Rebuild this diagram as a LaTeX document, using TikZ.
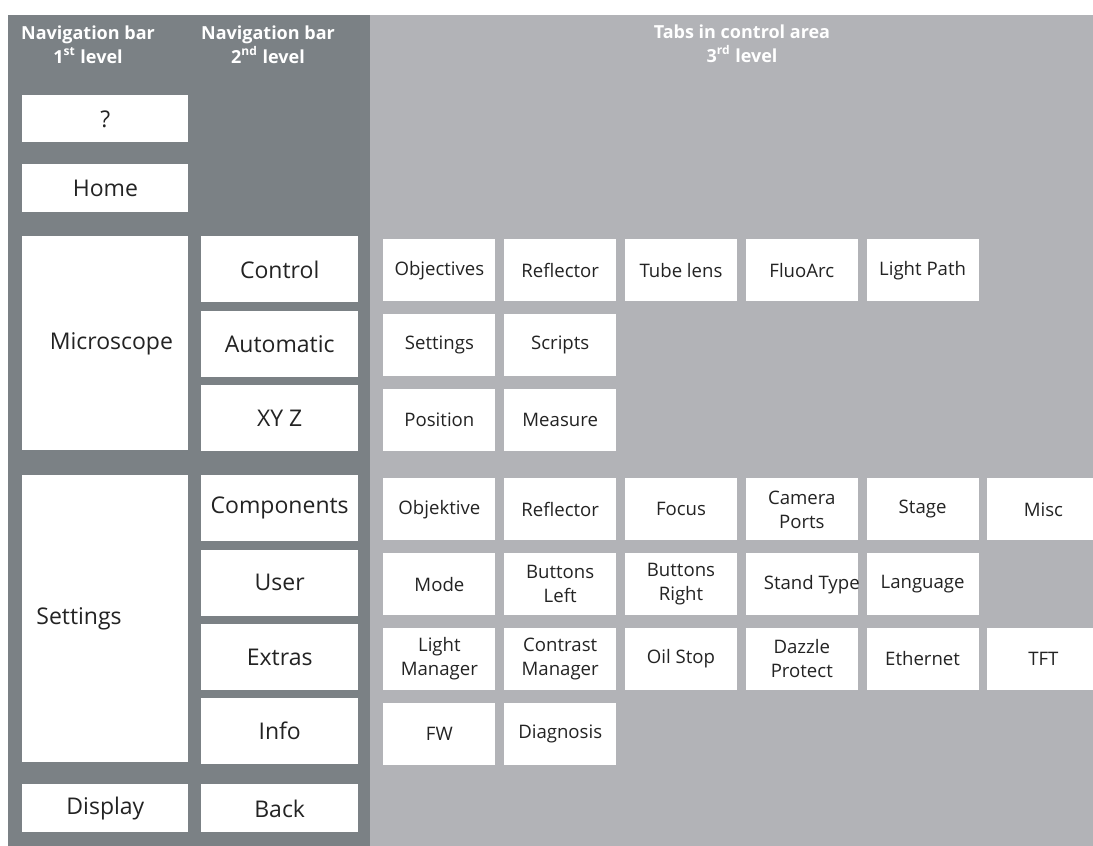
\documentclass[tikz,border=0pt]{standalone}
\usepackage{fontspec}
\setmainfont{Open Sans}
\usetikzlibrary{positioning}
\definecolor{navgrey}{RGB}{123,129,133}
\definecolor{tabgrey}{RGB}{178,179,183}
\definecolor{labelgrey}{RGB}{35,35,35}

\begin{document}
\begin{tikzpicture}[x=0.5pt, y=-0.5pt,
  headline/.style={text=white, align=center, anchor=base, inner sep=0pt,
    font=\bfseries\fontsize{9}{12}\selectfont},
  keybox/.style={fill=white, text=labelgrey, inner sep=0pt, align=center},
  navkey/.style={keybox, minimum width=83pt, font=\fontsize{11.5}{14}\selectfont},
  subkey/.style={keybox, minimum width=78.5pt, minimum height=33pt, font=\fontsize{11.5}{14}\selectfont},
  tabkey/.style={keybox, minimum width=56pt, minimum height=31pt, font=\fontsize{9.3}{12}\selectfont}]

% panels
\useasboundingbox (0,0) rectangle (1093,846);
\fill[white] (0,0) rectangle (1093,846);
\fill[navgrey] (8,15) rectangle (370,846);
\fill[tabgrey] (370,15) rectangle (1093,846);

% headings (base anchor sits on the second line)
\node[headline] (head1) at (88,63) {Navigation bar\\1\textsuperscript{st} level};
\node[headline] (head2) at (268,63) {Navigation bar\\2\textsuperscript{nd} level};
\node[headline] (head3) at (742,62) {Tabs in control area\\3\textsuperscript{rd} level};

% navigation bar, 1st level
\node[navkey, minimum height=23.5pt, anchor=north west] (help) at (22,95) {?};
\node[navkey, minimum height=24pt, below=10.5pt of help] (home) {Home};
\node[navkey, minimum height=107pt, anchor=north west] (micro) at (22,236) {\hspace*{6pt}Microscope};
\node[navkey, minimum height=143.5pt, anchor=north west, text width=69pt, inner xsep=7pt, align=left] (settings) at (22,475) {Settings};
\node[navkey, minimum height=24pt, anchor=north west] (display) at (22,784) {Display};

% navigation bar, 2nd level
\node[subkey, right=6pt of micro.north east, anchor=north west] (control) {Control};
\node[subkey, below=3.75pt of control] (automatic) {Automatic};
\node[subkey, below=3.75pt of automatic] (xyz) {XY Z};
\node[subkey, right=6pt of settings.north east, anchor=north west] (components) {Components};
\node[subkey, below=3.75pt of components] (user) {User};
\node[subkey, below=3.75pt of user] (extras) {Extras};
\node[subkey, below=3.75pt of extras] (info) {Info};
\node[subkey, minimum height=24pt, right=6pt of display] (back) {Back};

% tabs for Microscope
\node[tabkey, anchor=north west] (objectives) at (383,239) {Objectives};
\node[tabkey, right=4pt of objectives] (reflector) {Reflector};
\node[tabkey, right=4pt of reflector] (tubelens) {Tube lens};
\node[tabkey, right=4pt of tubelens] (fluoarc) {FluoArc};
\node[tabkey, right=4pt of fluoarc] (lightpath) {Light Path};
\node[tabkey, below=6pt of objectives] (autosettings) {Settings};
\node[tabkey, right=4pt of autosettings] (scripts) {Scripts};
\node[tabkey, below=6pt of autosettings] (position) {Position};
\node[tabkey, right=4pt of position] (measure) {Measure};

% tabs for Settings
\node[tabkey, anchor=north west] (objektive) at (383,478) {Objektive};
\node[tabkey, right=4pt of objektive] (compreflector) {Reflector};
\node[tabkey, right=4pt of compreflector] (focus) {Focus};
\node[tabkey, right=4pt of focus] (camports) {Camera\\Ports};
\node[tabkey, right=4pt of camports] (stage) {Stage};
\node[tabkey, right=4pt of stage] (misc) {Misc};
\node[tabkey, below=6pt of objektive] (mode) {Mode};
\node[tabkey, right=4pt of mode] (btnleft) {Buttons\\Left};
\node[tabkey, right=4pt of btnleft] (btnright) {Buttons\\Right};
\node[tabkey, right=4pt of btnright] (standtype) {\makebox[38pt][l]{Stand Type}};
\node[tabkey, right=4pt of standtype] (language) {Language};
\node[tabkey, below=6pt of mode] (lightmgr) {Light\\Manager};
\node[tabkey, right=4pt of lightmgr] (contrastmgr) {Contrast\\Manager};
\node[tabkey, right=4pt of contrastmgr] (oilstop) {Oil Stop};
\node[tabkey, right=4pt of oilstop] (dazzle) {Dazzle\\Protect};
\node[tabkey, right=4pt of dazzle] (ethernet) {Ethernet};
\node[tabkey, right=4pt of ethernet] (tft) {TFT};
\node[tabkey, below=6pt of lightmgr] (fw) {FW};
\node[tabkey, right=4pt of fw] (diagnosis) {Diagnosis};
\end{tikzpicture}
\end{document}
